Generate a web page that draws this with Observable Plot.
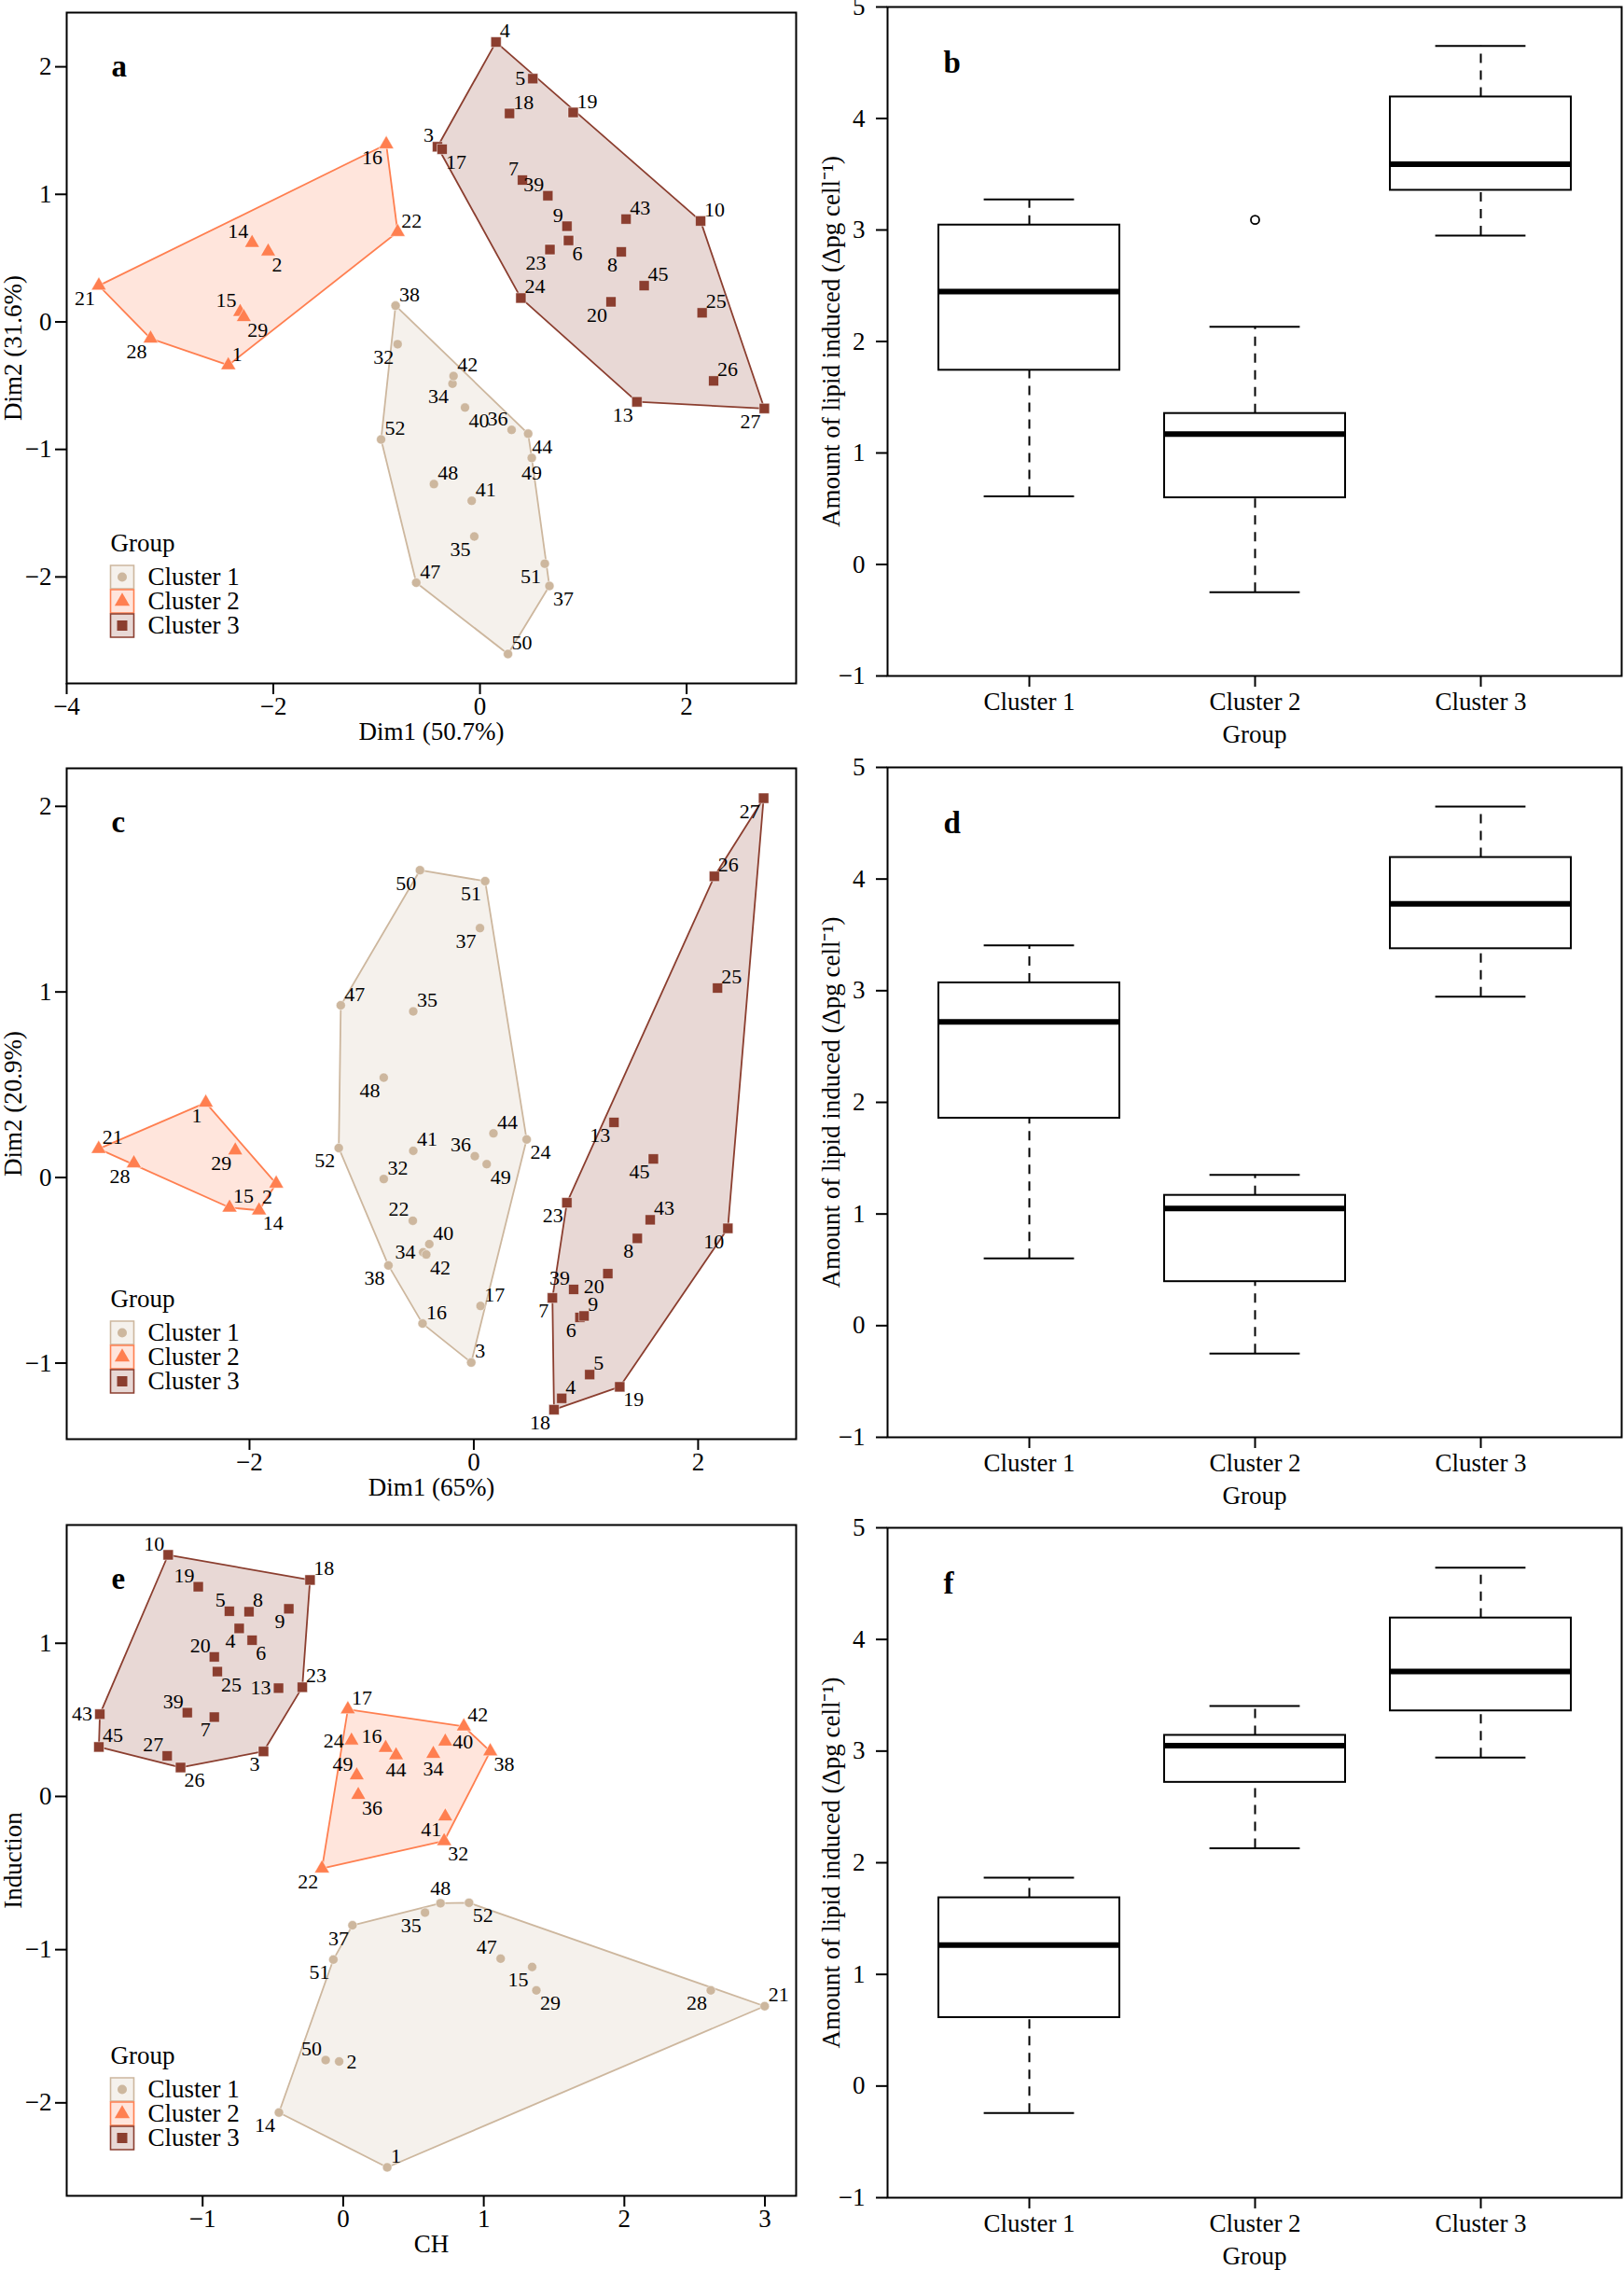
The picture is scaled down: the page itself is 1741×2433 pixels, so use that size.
<!DOCTYPE html>
<html><head><meta charset="utf-8">
<script src="https://cdn.jsdelivr.net/npm/d3@7"></script>
<script src="https://cdn.jsdelivr.net/npm/@observablehq/plot@0.6"></script>
<style>
html,body{margin:0;padding:0;background:#fff;}
#root{position:relative;width:1741px;height:2433px;overflow:hidden;background:#fff;}
#root svg{position:absolute;}
</style></head>
<body><div id="root"></div>
<script>
// ---------- shared ----------
const sampleIds = [1,2,3,4,5,6,7,8,9,10,13,14,15,16,17,18,19,20,21,22,23,24,25,26,27,28,29,32,34,35,36,37,38,39,40,41,42,43,44,45,47,48,49,50,51,52];
const clusterNames = ["Cluster 1","Cluster 2","Cluster 3"];

// ---------- panel a (PCA, Dim1 50.7% / Dim2 31.6%) ----------
const aDim1 = [-2.436,-2.050,-0.411,0.155,0.511,0.857,0.411,1.368,0.842,2.135,1.519,-2.206,-2.321,-0.907,-0.366,0.286,0.902,1.268,-3.689,-0.797,0.677,0.396,2.150,2.261,2.752,-3.188,-2.286,-0.797,-0.266,-0.055,0.306,0.672,-0.817,0.657,-0.145,-0.080,-0.256,1.414,0.466,1.589,-0.617,-0.446,0.501,0.271,0.627,-0.957];
const aDim2 = [-0.340,0.552,1.373,2.194,1.907,0.638,1.112,0.549,0.750,0.791,-0.627,0.619,0.078,1.392,1.354,1.634,1.642,0.157,0.284,0.705,0.567,0.187,0.071,-0.463,-0.679,-0.131,0.037,-0.175,-0.485,-1.683,-0.847,-2.071,0.127,0.989,-0.672,-1.403,-0.425,0.806,-0.877,0.284,-2.045,-1.272,-1.067,-2.604,-1.896,-0.922];
const aCluster = [2,2,3,3,3,3,3,3,3,3,3,2,2,2,3,3,3,3,2,2,3,3,3,3,3,2,2,1,1,1,1,1,1,3,1,1,1,3,1,3,1,1,1,1,1,1];
const aLabelSide = ["tr","br","tl","tr","l","br","tl","bl","tl","tr","bl","tl","tl","bl","br","tr","tr","bl","bl","tr","bl","tr","tr","tr","bl","bl","br","bl","bl","bl","tl","br","tr","tl","br","tr","tr","tr","br","tr","tr","tr","b","tr","bl","tr"];

// ---------- panel c (PCA, Dim1 65% / Dim2 20.9%) ----------
const cDim1 = [-2.390,-1.762,-0.023,0.784,1.033,0.946,0.701,1.458,0.983,2.265,1.250,-1.915,-2.178,-0.457,0.060,0.715,1.301,1.195,-3.345,-0.544,0.830,0.471,2.173,2.145,2.584,-3.031,-2.127,-0.803,-0.452,-0.540,0.009,0.055,-0.761,0.890,-0.397,-0.540,-0.424,1.573,0.175,1.601,-1.186,-0.803,0.115,-0.480,0.101,-1.204];
const cDim2 = [0.403,-0.033,-0.997,-1.190,-1.062,-0.754,-0.649,-0.328,-0.746,-0.274,0.297,-0.177,-0.162,-0.787,-0.692,-1.251,-1.128,-0.518,0.154,-0.233,-0.136,0.205,1.021,1.623,2.044,0.077,0.146,-0.008,-0.403,0.895,0.115,1.344,-0.474,-0.603,-0.359,0.144,-0.415,-0.228,0.238,0.100,0.928,0.538,0.072,1.656,1.597,0.159];
const cCluster = [2,2,1,3,3,3,3,3,3,3,3,2,2,1,1,3,3,3,2,1,3,1,3,3,3,2,2,1,1,1,1,1,1,3,1,1,1,3,1,3,1,1,1,1,1,1];
const cLabelSide = ["bl","bl","tr","tr","tr","bl","bl","bl","tr","bl","bl","br","tr","tr","tr","bl","br","bl","tr","tl","bl","br","tr","tr","bl","bl","bl","tr","l","tr","tl","bl","bl","tl","tr","tr","br","tr","tr","bl","tr","bl","br","bl","bl","bl"];

// ---------- panel e (CH / Induction) ----------
const eCH = [0.313,-0.029,-0.567,-0.740,-0.810,-0.648,-0.917,-0.670,-0.387,-1.245,-0.460,-0.457,1.344,0.302,0.033,-0.236,-1.031,-0.917,2.998,-0.151,-0.291,0.059,-0.895,-1.157,-1.252,2.615,1.374,0.718,0.641,0.582,0.107,0.066,1.046,-1.109,0.726,0.726,0.858,-1.731,0.376,-1.738,1.120,0.692,0.096,-0.125,-0.070,0.895];
const eInduction = [-2.421,-1.730,0.294,1.097,1.209,1.020,0.518,1.206,1.225,1.577,0.707,-2.063,-1.113,0.317,0.569,1.413,1.369,0.911,-1.369,-0.470,0.713,0.365,0.815,0.189,0.265,-1.266,-1.266,-0.291,0.278,-0.758,0.010,-0.841,0.294,0.547,0.358,-0.131,0.457,0.537,0.269,0.323,-1.059,-0.697,0.138,-1.721,-1.065,-0.694];
const eCluster = [1,1,3,3,3,3,3,3,3,3,3,1,1,2,2,3,3,3,1,2,3,2,3,3,3,1,1,2,2,1,2,1,2,3,2,2,2,3,2,3,1,1,2,1,1,1];
const eLabelSide = ["tr","r","bl","bl","tl","br","bl","tr","bl","tl","l","bl","bl","tl","tr","tr","tl","tl","tr","bl","tr","l","br","br","tl","bl","br","br","b","bl","br","bl","br","tl","r","bl","tr","l","b","tr","tl","t","tl","tl","bl","br"];

// ---------- boxplots: amount of lipid induced ----------
const bLow = [0.611,-0.248,2.950], bQ1 = [1.742,0.598,3.356], bMedian = [2.447,1.170,3.591], bQ3 = [3.044,1.354,4.193], bHigh = [3.275,2.131,4.650];
const bOutlierCluster = ["Cluster 2"], bOutlierValue = [3.091];
const dLow = [0.603,-0.249,2.947], dQ1 = [1.858,0.394,3.376], dMedian = [2.720,1.049,3.778], dQ3 = [3.070,1.167,4.193], dHigh = [3.406,1.351,4.648];
const fLow = [-0.241,2.129,2.943], fQ1 = [0.613,2.720,3.360], fMedian = [1.262,3.049,3.714], fQ3 = [1.686,3.141,4.192], fHigh = [1.866,3.403,4.643];

// ---------- styles ----------
const colors = ["#CDB79E","#FF7F50","#8B3E2F"];
const symbols = ["circle","triangle","square"];
const radii = [5.0, 6.0, 6.2];
const FONT = "'Liberation Serif','Times New Roman',serif";
const fmt = d3.format("d");
const sideStyle = {
  tr:{textAnchor:"start",dx:4,dy:-12}, tl:{textAnchor:"end",dx:-4,dy:-12},
  br:{textAnchor:"start",dx:4,dy:14},  bl:{textAnchor:"end",dx:-4,dy:14},
  l:{textAnchor:"end",dx:-8,dy:0},     r:{textAnchor:"start",dx:8,dy:0},
  t:{textAnchor:"middle",dx:0,dy:-16}, b:{textAnchor:"middle",dx:0,dy:16}
};
const root = document.getElementById("root");

function hullMark(pts, opts) {
  if (Plot.hull) return Plot.hull(pts, {x:"x", y:"y", ...opts});
  const h = d3.polygonHull(pts.map(d => [d.x, d.y]));
  const ring = h.concat([h[0]]).map(([x, y]) => ({x, y}));
  return Plot.line(ring, {x:"x", y:"y", ...opts});
}
function label(txt, opts) {
  return Plot.text([txt], {text:d => d, fill:"black", lineAnchor:"middle", fontSize:27, ...opts});
}

function scatter(o) {
  const data = sampleIds.map((id, i) => ({id, x:o.xs[i], y:o.ys[i], c:o.cl[i], s:o.side[i]}));
  const marks = [];
  for (let k = 1; k <= 3; k++) {
    marks.push(hullMark(data.filter(d => d.c === k), {fill:colors[k-1], fillOpacity:0.2, stroke:colors[k-1], strokeWidth:1.8}));
  }
  marks.push(Plot.frame({stroke:"black", strokeWidth:2}));
  for (let k = 1; k <= 3; k++) {
    marks.push(Plot.dot(data.filter(d => d.c === k), {x:"x", y:"y", symbol:symbols[k-1], r:radii[k-1], fill:colors[k-1], stroke:"white", strokeWidth:0.5}));
  }
  for (const s in sideStyle) {
    marks.push(Plot.text(data.filter(d => d.s === s), {x:"x", y:"y", text:d => String(d.id), fontSize:22, fill:"black", lineAnchor:"middle", ...sideStyle[s]}));
  }
  marks.push(Plot.axisX({ticks:o.xTicks, tickFormat:fmt, tickSize:12, tickPadding:2, fontSize:27, strokeWidth:2, label:null}));
  marks.push(Plot.axisY({ticks:o.yTicks, tickFormat:fmt, tickSize:12, tickPadding:4, fontSize:27, strokeWidth:2, label:null}));
  marks.push(label(o.xLabel, {frameAnchor:"bottom", dy:52, textAnchor:"middle"}));
  marks.push(label(o.yLabel, {frameAnchor:"left", dx:-57, rotate:-90, textAnchor:"middle"}));
  marks.push(label(o.letter, {frameAnchor:"top-left", dx:48, dy:58, fontSize:33, fontWeight:"bold", textAnchor:"start"}));
  // legend
  marks.push(label("Group", {frameAnchor:"top-left", dx:47, dy:569, textAnchor:"start"}));
  clusterNames.forEach((name, i) => {
    const dy = 605 + 26 * i;
    marks.push(Plot.dot([name], {frameAnchor:"top-left", dx:59.5, dy, symbol:"square", r:14.1, fill:colors[i], fillOpacity:0.2, stroke:colors[i], strokeWidth:1.6}));
    marks.push(Plot.dot([name], {frameAnchor:"top-left", dx:59.5, dy, symbol:symbols[i], r:radii[i], fill:colors[i]}));
    marks.push(label(name, {frameAnchor:"top-left", dx:87, dy, textAnchor:"start"}));
  });
  const svg = Plot.plot({
    width:870, height:o.height, marginLeft:71, marginRight:17, marginTop:o.mt, marginBottom:o.mb,
    x:{domain:o.xDomain}, y:{domain:o.yDomain},
    style:{fontFamily:FONT, fontSize:"27px", color:"black", background:"transparent", overflow:"visible"},
    marks
  });
  svg.style.left = "0px"; svg.style.top = o.top + "px";
  root.appendChild(svg);
}

function boxes(o) {
  const stats = clusterNames.map((c, i) => ({c, lo:o.lo[i], q1:o.q1[i], med:o.med[i], q3:o.q3[i], hi:o.hi[i]}));
  const outl = (o.outC || []).map((c, i) => ({c, v:o.outV[i]}));
  const capInset = 48.6;
  const marks = [
    Plot.ruleX(stats, {x:"c", y1:"q3", y2:"hi", stroke:"black", strokeWidth:2, strokeDasharray:"10,8"}),
    Plot.ruleX(stats, {x:"c", y1:"lo", y2:"q1", stroke:"black", strokeWidth:2, strokeDasharray:"10,8"}),
    Plot.tickY(stats, {x:"c", y:"hi", stroke:"black", strokeWidth:2, insetLeft:capInset, insetRight:capInset}),
    Plot.tickY(stats, {x:"c", y:"lo", stroke:"black", strokeWidth:2, insetLeft:capInset, insetRight:capInset}),
    Plot.barY(stats, {x:"c", y1:"q1", y2:"q3", fill:"white", stroke:"black", strokeWidth:2}),
    Plot.tickY(stats, {x:"c", y:"med", stroke:"black", strokeWidth:6}),
    Plot.dot(outl, {x:"c", y:"v", r:4.5, fill:"white", stroke:"black", strokeWidth:1.8}),
    Plot.frame({stroke:"black", strokeWidth:2}),
    Plot.axisX({tickSize:12, tickPadding:5, fontSize:27, strokeWidth:2, label:null}),
    Plot.axisY({ticks:[-1,0,1,2,3,4,5], tickFormat:fmt, tickSize:12, tickPadding:12, fontSize:27, strokeWidth:2, label:null}),
    label("Group", {frameAnchor:"bottom", dy:63, textAnchor:"middle"}),
    label("Amount of lipid induced (\u0394pg cell\u207B\u00B9)", {frameAnchor:"left", dx:-60, rotate:-90, textAnchor:"middle"}),
    label(o.letter, {frameAnchor:"top-left", dx:60, dy:60, fontSize:33, fontWeight:"bold", textAnchor:"start"})
  ];
  const svg = Plot.plot({
    width:871, height:o.height, marginLeft:81, marginRight:3, marginTop:o.mt, marginBottom:o.mb,
    x:{type:"band", domain:clusterNames, paddingInner:0.2, paddingOuter:0.22},
    y:{domain:[-1,5]},
    style:{fontFamily:FONT, fontSize:"27px", color:"black", background:"transparent", overflow:"visible"},
    marks
  });
  svg.style.left = "870px"; svg.style.top = o.top + "px";
  root.appendChild(svg);
}

scatter({xs:aDim1, ys:aDim2, cl:aCluster, side:aLabelSide, xDomain:[-4,3.06], yDomain:[-2.835,2.425],
  xTicks:[-4,-2,0,2], yTicks:[-2,-1,0,1,2], xLabel:"Dim1 (50.7%)", yLabel:"Dim2 (31.6%)", letter:"a",
  top:0, height:810, mt:13, mb:78});
scatter({xs:cDim1, ys:cDim2, cl:cCluster, side:cLabelSide, xDomain:[-3.63,2.874], yDomain:[-1.41,2.205],
  xTicks:[-2,0,2], yTicks:[-1,0,1,2], xLabel:"Dim1 (65%)", yLabel:"Dim2 (20.9%)", letter:"c",
  top:810, height:810, mt:13, mb:78});
scatter({xs:eCH, ys:eInduction, cl:eCluster, side:eLabelSide, xDomain:[-1.967,3.222], yDomain:[-2.607,1.772],
  xTicks:[-1,0,1,2,3], yTicks:[-2,-1,0,1], xLabel:"CH", yLabel:"Induction", letter:"e",
  top:1620, height:813, mt:14, mb:80});

boxes({lo:bLow, q1:bQ1, med:bMedian, q3:bQ3, hi:bHigh, outC:bOutlierCluster, outV:bOutlierValue, letter:"b", top:0, height:810, mt:7, mb:86});
boxes({lo:dLow, q1:dQ1, med:dMedian, q3:dQ3, hi:dHigh, letter:"d", top:810, height:810, mt:12, mb:80});
boxes({lo:fLow, q1:fQ1, med:fMedian, q3:fQ3, hi:fHigh, letter:"f", top:1620, height:813, mt:17, mb:78});
</script>
</body></html>
